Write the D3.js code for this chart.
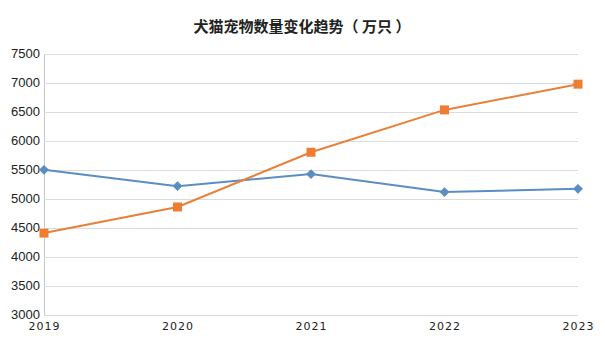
<!DOCTYPE html>
<html><head><meta charset="utf-8">
<script src="https://cdn.jsdelivr.net/npm/d3@7"></script>
<style>body{margin:0;background:#fff}</style>
</head><body>
<svg id="c" width="605" height="340"></svg>
<script>
const years = ["2019","2020","2021","2022","2023"];
const dogs = [5503,5222,5429,5119,5175];
const cats = [4412,4862,5806,6536,6980];
const yTicks = [3000,3500,4000,4500,5000,5500,6000,6500,7000,7500];
const title = "犬猫宠物数量变化趋势（ 万只 ）";

const svg = d3.select("#c");
const m = {l:44, r:578, t:54, b:315};
const x = d3.scalePoint().domain(years).range([m.l, m.r]);
const y = d3.scaleLinear().domain([3000,7500]).range([m.b, m.t]);

svg.append("text").attr("x",302).attr("y",32).attr("text-anchor","middle")
  .attr("font-family","Noto Sans CJK SC").attr("font-weight","bold").attr("font-size",15)
  .attr("fill","#222").text(title);

const ya = svg.append("g").attr("transform",`translate(${m.l},0)`)
  .call(d3.axisLeft(y).tickValues(yTicks).tickFormat(d3.format("d")).tickSize(-(m.r-m.l)).tickSizeOuter(0).tickPadding(4));
ya.select(".domain").attr("stroke","#c8c8c8");
ya.selectAll(".tick line").attr("stroke","#dcdcdc");
ya.selectAll(".tick text").attr("font-family","Liberation Sans, Arial").attr("font-size",13).attr("fill","#222")
  .attr("dy","0.3em");

const xa = svg.append("g").attr("transform",`translate(0,${m.b})`)
  .call(d3.axisBottom(x).tickSize(0).tickPadding(7));
xa.select(".domain").remove();
xa.selectAll(".tick text").attr("font-family","DejaVu Sans").attr("font-size",11)
  .attr("letter-spacing","1px").attr("fill","#222");

const line = d3.line().x((d,i)=>x(years[i])).y(d=>y(d));
svg.append("path").datum(dogs).attr("d",line).attr("fill","none").attr("stroke","#5a8ec3").attr("stroke-width",2);
svg.append("path").datum(cats).attr("d",line).attr("fill","none").attr("stroke","#e8803a").attr("stroke-width",2);

svg.selectAll(".dm").data(dogs).join("rect")
  .attr("x",-3.5).attr("y",-3.5).attr("width",7).attr("height",7)
  .attr("transform",(d,i)=>`translate(${x(years[i])},${y(d)}) rotate(45)`).attr("fill","#5a8ec3");
svg.selectAll(".cm").data(cats).join("rect")
  .attr("x",(d,i)=>x(years[i])-4.5).attr("y",d=>y(d)-4.5).attr("width",9).attr("height",9)
  .attr("fill","#ed7d31");
</script>
</body></html>
